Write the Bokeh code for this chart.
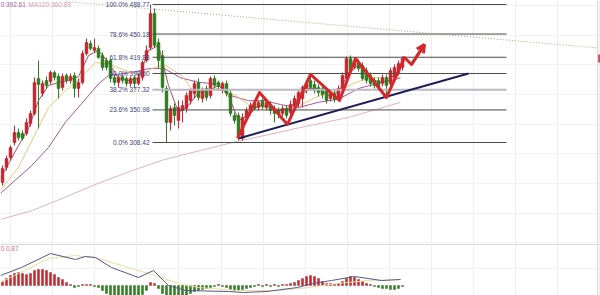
from bokeh.plotting import figure
from bokeh.layouts import column
from bokeh.models import Range1d, FixedTicker, Span, Label, Arrow, OpenHead, ColumnDataSource, Grid
from bokeh.core.properties import value
from bokeh.embed import file_html
from bokeh.resources import INLINE

# ---------------- daily candles ----------------
opens = [256.2, 275.8, 288.8, 308.4, 321.5, 320.2, 320.2, 333.3, 346.3, 392.1,
         372.5, 389.4, 388.1, 399.9, 394.7, 380.3, 396.0, 389.4, 396.0, 379.0,
         386.8, 424.7, 437.8, 428.7, 431.3, 422.1, 415.6, 415.6, 393.4, 386.8,
         394.7, 392.1, 385.5, 393.4, 385.5, 393.4, 415.6, 432.6, 477.0, 439.1,
         422.1, 379.0, 334.6, 354.2, 337.2, 350.3, 352.9, 363.3, 372.5, 386.8,
         365.9, 379.0, 369.9, 392.1, 386.8, 376.4, 385.5, 372.5, 343.7, 343.7,
         313.6, 341.1, 347.6, 359.4, 354.2, 363.3, 354.2, 358.1, 352.9, 350.3,
         346.3, 352.9, 347.6, 355.5, 359.4, 365.9, 376.4, 389.4, 384.2, 380.3,
         379.0, 376.4, 365.9, 372.5, 367.2, 376.4, 392.1, 418.2, 407.7, 413.0,
         409.1, 402.5, 396.0, 389.4, 389.4, 385.5, 393.4, 385.5, 393.4, 399.9,
         406.4]
highs = [278.4, 291.4, 304.5, 330.6, 326.7, 324.1, 339.8, 350.3, 393.4, 415.6,
         389.4, 394.7, 402.5, 402.5, 398.6, 398.6, 398.6, 398.6, 399.9, 392.1,
         428.7, 444.3, 441.7, 444.3, 435.2, 426.0, 419.5, 418.2, 397.3, 396.0,
         397.3, 394.7, 394.7, 396.0, 398.6, 415.6, 435.2, 488.77, 483.5, 444.3,
         428.7, 382.9, 356.8, 359.4, 363.3, 363.3, 373.8, 379.0, 389.4, 392.1,
         380.3, 382.9, 394.7, 396.0, 389.4, 388.1, 389.4, 376.4, 347.6, 347.6,
         346.3, 354.2, 360.7, 363.3, 363.3, 365.9, 364.6, 362.0, 356.8, 354.2,
         356.8, 356.8, 363.3, 369.9, 376.4, 382.9, 389.4, 394.7, 389.4, 384.2,
         382.9, 380.3, 377.7, 376.4, 382.9, 399.9, 420.8, 422.1, 419.5, 416.9,
         413.0, 406.4, 399.9, 393.4, 393.4, 397.3, 397.3, 406.4, 410.4, 415.6,
         420.8]
lows = [252.2, 271.8, 284.9, 304.5, 311.0, 311.0, 317.6, 329.3, 343.7, 326.7,
        368.5, 379.0, 384.2, 389.4, 365.9, 376.4, 385.5, 385.5, 367.2, 367.2,
        384.2, 422.1, 428.7, 426.0, 418.2, 402.5, 402.5, 386.8, 382.9, 380.3,
        385.5, 381.6, 381.6, 379.0, 382.9, 389.4, 413.0, 428.7, 432.6, 405.1,
        373.8, 308.42, 324.1, 330.6, 326.7, 334.6, 347.6, 358.1, 365.9, 363.3,
        360.7, 363.3, 365.9, 379.0, 376.4, 372.5, 368.5, 342.4, 333.3, 311.0,
        311.0, 338.5, 343.7, 350.3, 350.3, 351.6, 350.3, 345.0, 334.6, 339.8,
        342.4, 339.8, 337.2, 350.3, 354.2, 354.2, 372.5, 376.4, 372.5, 368.5,
        365.9, 359.4, 362.0, 360.7, 363.3, 373.8, 389.4, 399.9, 403.8, 401.2,
        389.4, 385.5, 381.6, 379.0, 376.4, 381.6, 368.5, 381.6, 389.4, 396.0,
        402.5]
closes = [274.5, 287.5, 301.9, 321.5, 314.9, 313.6, 334.6, 346.3, 386.8, 384.2,
          385.5, 382.9, 399.9, 393.4, 379.0, 394.7, 389.4, 394.7, 379.0, 386.8,
          424.7, 439.1, 431.3, 432.6, 419.5, 406.4, 406.4, 392.1, 386.8, 393.4,
          389.4, 385.5, 392.1, 385.5, 393.4, 413.0, 428.7, 477.0, 435.2, 415.6,
          380.3, 334.6, 352.9, 343.7, 354.2, 356.8, 369.9, 376.4, 385.5, 367.2,
          376.4, 367.2, 392.1, 382.9, 381.6, 385.5, 372.5, 346.3, 337.2, 314.9,
          341.1, 350.3, 356.8, 352.9, 360.7, 355.5, 360.7, 350.3, 346.3, 345.0,
          352.9, 343.7, 358.1, 365.9, 373.8, 380.3, 385.5, 380.3, 376.4, 373.8,
          371.2, 363.3, 373.8, 364.6, 379.0, 396.0, 418.2, 402.5, 415.6, 405.1,
          392.1, 389.4, 385.5, 382.9, 380.3, 393.4, 382.9, 402.5, 406.4, 411.7,
          418.2]

# ---------------- moving averages (sampled along the candle index) ----------------
ma5_idx = [0, 4.5, 7, 9.5, 12, 14.5, 17, 19.5, 22, 24.5, 27, 29.5, 32, 34.5, 37, 39.5,
           42, 44.5, 47, 49.5, 52, 54.5, 57, 59.5, 62, 64.5, 67, 69.5, 72, 74.5, 77,
           79.5, 82, 84.5, 87, 89.5, 92, 94.5, 97, 100]
ma5 = [261.4, 304.5, 326.7, 363.3, 382.9, 386.8, 389.5, 394.7, 422.1, 428.7, 413.0,
       392.1, 389.5, 392.1, 428.7, 435.2, 382.9, 347.6, 356.8, 373.8, 376.4, 382.9,
       369.9, 337.2, 343.7, 356.8, 355.5, 350.3, 352.9, 365.9, 379.0, 379.0, 369.9,
       373.8, 399.9, 409.1, 396.0, 386.8, 389.5, 405.1]
ma10_idx = [0, 4.5, 9.5, 12, 16.25, 19.5, 23.75, 27, 31, 35.25, 37.75, 41, 45.25, 49.5,
            53.75, 58.75, 62, 66.25, 70, 74.5, 79.5, 84.5, 88.5, 92.75, 96, 100]
ma10 = [246, 276, 328, 354, 376, 390, 413, 411, 403, 396, 405, 410, 396, 366, 380,
        370, 358, 354, 352, 356, 369, 376, 386, 394, 392, 394]
ma20_idx = [0, 7.75, 12, 16.25, 20.25, 24.5, 27, 33, 37, 41, 45, 49.5, 54,
            58, 62, 66, 70, 74.5, 79.5, 84.5, 89.5, 94.5, 100]
ma20 = [242, 278, 302, 335, 359, 385, 396, 400, 405, 405, 393, 387, 385, 369,
        363, 363, 358, 354, 361, 365, 379, 386, 392.61]
ma120_idx = [0, 8, 16, 25, 33, 41, 50, 58, 66, 75, 87, 100]
ma120 = [207.8, 219.6, 236.6, 256.2, 271.8, 286.2, 298.0, 308.4, 317.6, 328.0,
         341.1, 360.89]

# ---------------- Fibonacci retracement of the 308.42 -> 488.77 swing ----------------
fib_ratios = ["100.0%", "78.6%", "61.8%", "50.0%", "38.2%", "23.6%", "0.0%"]
fib_prices = [488.77, 450.18, 419.83, 398.60, 377.32, 350.98, 308.42]
fib_start_idx = 37
fib_end_idx = 126

# ---------------- drawn studies ----------------
trend_idx = [59.5, 117]
trend_price = [313.7, 398.6]
resist_idx = [16.5, 149.5]
resist_price = [492.7, 431.9]
zig_idx = [59.25, 64.75, 71.75, 77.5, 84.75, 88.75, 96.5, 101, 102.75, 106]
zig_price = [313.7, 373.8, 332.0, 397.3, 363.3, 418.2, 367.2, 419.5, 410.4, 436.5]

# ---------------- MACD ----------------
macd_hist = [4, 7, 10, 12, 13, 12, 11, 12, 15, 16,
             16, 15, 13, 11, 8, 6, 3, 1, -2, -1,
             1, 1, 1, -1, -2, -5, -8, -11, -12, -12,
             -12, -12, -12, -12, -11, -9, -5, 3, 2, -3,
             -8, -12, -12, -12, -12, -11, -10, -8, -6, -5,
             -4, -3, -2, -1, 1, -1, -2, -4, -5, -5,
             -4, -3, -2, -1, 1, -1, 1, -1, 1, -1,
             1, 1, 2, 3, 5, 7, 9, 10, 9, 7,
             4, 2, 2, 1, 2, 4, 7, 9, 8, 6,
             4, 2, 1, -1, -2, -3, -3, -4, -4, -3,
             -1]
dif_idx = [0, 5.25, 12.5, 18.75, 21.25, 23.75, 27.75, 34.5, 38.25, 42, 46.25, 57,
           60.75, 66.5, 74.25, 78, 82.75, 88.5, 95.25, 100]
dif = [10, 18, 32, 26, 29, 28, 18, 8, 15, 0, -5, -6, -7, -6, -2, 2, 5, 9, 5, 6]
dea_idx = [0, 4.5, 12, 18.75, 24.5, 32.75, 38.75, 44.5, 49.5, 59.5, 69.5, 77, 84,
           92, 100]
dea = [3, 12, 27, 30, 27, 17, 10, 2, -2, -5, -5, -2, 2, 5, 6]
macd_text = "0.0.87"
legend_ma20 = "0:392.61"
legend_ma120 = "MA120:360.89"

RED = "#c3262e"
GREEN = "#2e7d1f"
FONT_NAME = "Liberation Sans"
FONT = value(FONT_NAME)

n = len(closes)
xs = [i + 0.5 for i in range(n)]
candles = ColumnDataSource(dict(
    x=xs,
    high=highs,
    low=lows,
    top=[max(o, c) for o, c in zip(opens, closes)],
    bottom=[min(o, c) for o, c in zip(opens, closes)],
    color=[RED if c >= o else GREEN for o, c in zip(opens, closes)],
))

grid_x = [2.5 + 10.525 * k for k in range(15)]
grid_y = [177.3 + 38.8 * k for k in range(9)]

p = figure(width=600, height=245, x_range=Range1d(0, 150), y_range=Range1d(173.8, 494.0),
           x_axis_type=None, y_axis_type=None, output_backend="svg",
           toolbar_location=None, min_border=0, outline_line_color=None,
           background_fill_color="white")
p.add_layout(Grid(dimension=0, ticker=FixedTicker(ticks=grid_x), grid_line_color="#efefef"))
p.add_layout(Grid(dimension=1, ticker=FixedTicker(ticks=grid_y), grid_line_color="#f2f2f2"))

# moving averages under the candles
p.line(ma120_idx, ma120, line_color="#ddb3c4", line_width=1)
p.line(ma20_idx, ma20, line_color="#a45a9c", line_width=1)
p.line(ma10_idx, ma10, line_color="#e6c878", line_width=1)
p.line(ma5_idx, ma5, line_color="#b54a5e", line_width=1)

# candles
p.segment(x0="x", x1="x", y0="low", y1="high", line_color="color", line_width=1, source=candles)
p.vbar(x="x", width=0.72, top="top", bottom="bottom", fill_color="color",
       line_color="color", line_width=0.5, source=candles)

# Fibonacci levels
fib_colors = ["#4a4a4a", "#4a4a4a", "#4a4a4a", "#4a4a4a", "#b9b9c6", "#4a4a4a", "#4a4a4a"]
fib_widths = [1, 1, 1, 1, 2, 1, 1]
p.segment(x0=[fib_start_idx + 1] * len(fib_prices), x1=[fib_end_idx + 0.5] * len(fib_prices),
          y0=fib_prices, y1=fib_prices, line_color=fib_colors, line_width=fib_widths)
p.text(x=[fib_start_idx + 0.25] * len(fib_prices), y=fib_prices,
       text=[f"{r} {v:.2f}" for r, v in zip(fib_ratios, fib_prices)],
       text_align="right", text_baseline="middle", text_font=FONT,
       text_font_size="6.5px", text_color="#3d3d78")

# trend lines and projected path
p.line(resist_idx, resist_price, line_color="#8fae78", line_width=1, line_dash="1 2")
p.line(trend_idx, trend_price, line_color="#1c1c58", line_width=2)
p.line(zig_idx, zig_price, line_color="#d6282b", line_width=3, line_join="round")
p.add_layout(Arrow(end=OpenHead(size=8, line_color="#d6282b", line_width=3),
                   x_start=zig_idx[-2], y_start=zig_price[-2],
                   x_end=zig_idx[-1], y_end=zig_price[-1],
                   line_color="#d6282b", line_width=3))

# right edge and last-price tag
p.add_layout(Span(location=149.3, dimension="height", line_color="#d4d4d4", line_width=1))
p.add_layout(Span(location=175.1, dimension="width", line_color="#dadada", line_width=1))
p.rect(x=[149.7], y=[closes[-1]], width=3, height=8, width_units="screen",
       height_units="screen", fill_color="#d24a5c", line_color=None)

p.add_layout(Label(x=0, y=241, x_units="screen", y_units="screen", text=legend_ma20,
                   text_font=FONT_NAME, text_font_size="6.5px", text_color="#a45a9c",
                   text_baseline="middle"))
p.add_layout(Label(x=28, y=241, x_units="screen", y_units="screen", text=legend_ma120,
                   text_font=FONT_NAME, text_font_size="6.5px", text_color="#d99aae",
                   text_baseline="middle"))

# ---------------- MACD panel ----------------
q = figure(width=600, height=50, x_range=p.x_range, y_range=Range1d(-10, 40),
           x_axis_type=None, y_axis_type=None, output_backend="svg",
           toolbar_location=None, min_border=0, outline_line_color=None,
           background_fill_color="white")
q.add_layout(Grid(dimension=0, ticker=FixedTicker(ticks=grid_x), grid_line_color="#efefef"))
q.add_layout(Grid(dimension=1, ticker=FixedTicker(ticks=[17]), grid_line_color="#f2f2f2"))
q.vbar(x=xs, width=0.5, top=[max(h, 0) for h in macd_hist], bottom=[min(h, 0) for h in macd_hist],
       fill_color=[RED if h > 0 else GREEN for h in macd_hist],
       line_color=[RED if h > 0 else GREEN for h in macd_hist], line_width=0.5)
q.line(dea_idx, dea, line_color="#eedca0", line_width=1)
q.line(dif_idx, dif, line_color="#55578c", line_width=1)
q.add_layout(Span(location=149.3, dimension="height", line_color="#d4d4d4", line_width=1))
q.add_layout(Label(x=0, y=47, x_units="screen", y_units="screen", text=macd_text,
                   text_font=FONT_NAME, text_font_size="6.5px", text_color="#d07080",
                   text_baseline="middle"))

layout = column(p, q, spacing=0)
open("out.html", "w").write(file_html(layout, INLINE))
